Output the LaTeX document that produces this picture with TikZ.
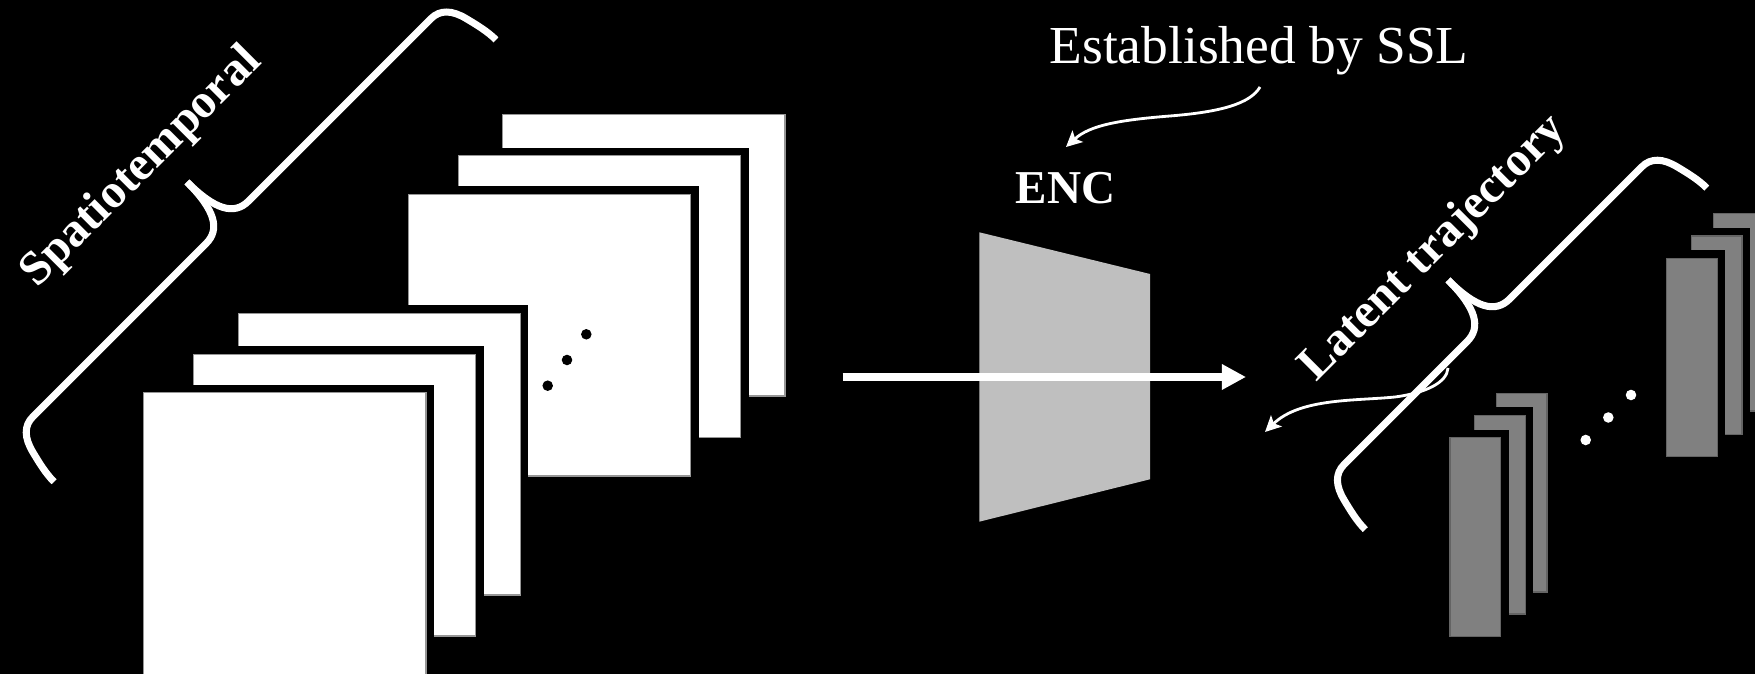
\documentclass[tikz,border=0pt]{standalone}
\usepackage{fontspec}
\setmainfont{Liberation Serif}
\usetikzlibrary{arrows.meta}
\definecolor{framegray}{RGB}{128,128,128}
\definecolor{frameedge}{RGB}{100,100,100}
\definecolor{sheetedge}{RGB}{150,150,150}
\definecolor{encgray}{RGB}{191,191,191}
% one sheet of a stack: a black margin behind it, then the sheet itself
\newcommand\stackedsheet[5]{%
  \fill[black] (#2-8,#3-8) rectangle (#4+8,#5+8);
  \filldraw[#1] (#2,#3) rectangle (#4,#5);}
\begin{document}
\begin{tikzpicture}[x=0.01cm, y=-0.01cm,
  whitesheet/.style={fill=white, draw=sheetedge, line width=0.4pt},
  latentsheet/.style={fill=framegray, draw=frameedge, line width=0.4pt},
  bracestroke/.style={draw=white, line width=2pt, line cap=butt},
  pointer/.style={draw=white, line width=0.8pt, -{Stealth[length=4.5pt, width=4.4pt, inset=1pt]}},
  flow/.style={draw=white, line width=2.28pt, -{Triangle[length=6.9pt, width=6.9pt]}},
  boldlabel/.style={text=white, font=\fontsize{13.7}{16}\selectfont\bfseries, inner sep=0pt},
  pics/curlybrace/.style 2 args={code={
    \draw[bracestroke] (0,0) .. controls (0,40) and (-10,57) .. (-30,57)
      -- (-#1+31,57) .. controls (-#1+18,57) and (-#1+10,66) .. (-#1+6,82)
      .. controls (-#1+3,94) and (-#1,106) .. (-#1,118);
    \draw[bracestroke] (0,0) .. controls (0,40) and (10,57) .. (30,57)
      -- (#2-31,57) .. controls (#2-18,57) and (#2-10,66) .. (#2-6,82)
      .. controls (#2-3,94) and (#2,106) .. (#2,118);
  }}]
\useasboundingbox (0,0) rectangle (1755,674);
\clip (0,0) rectangle (1755,674);
\fill[black] (0,0) rectangle (1755,674);

% input frames, back stack
\stackedsheet{whitesheet}{502.7}{114.3}{785}{396}
\stackedsheet{whitesheet}{458.3}{155.7}{740.7}{437.7}
\stackedsheet{whitesheet}{408.3}{194.3}{690.7}{476}
\foreach \p in {(547.7,385.7),(567,360),(586.3,334.3)}
  \fill[black] \p circle[radius=1.5pt];

% input frames, front stack
\stackedsheet{whitesheet}{238.3}{313.3}{520.3}{595}
\stackedsheet{whitesheet}{193.3}{354.3}{475.7}{636}
\stackedsheet{whitesheet}{143.3}{392.7}{426}{690}

% latent codes
\stackedsheet{latentsheet}{1713.3}{213.3}{1764}{411}
\stackedsheet{latentsheet}{1691.7}{236}{1742}{434.3}
\stackedsheet{latentsheet}{1666.7}{258.3}{1717.3}{456.3}
\stackedsheet{latentsheet}{1496.3}{393.3}{1547}{592}
\stackedsheet{latentsheet}{1474.7}{415.3}{1525.3}{614}
\stackedsheet{latentsheet}{1450}{437.7}{1500.7}{636.3}
\foreach \p in {(1585.7,440),(1608.3,417.5),(1631,395)}
  \fill[white] \p circle[radius=1.5pt];

% encoder
\fill[encgray] (979.3,232.3) -- (1150,274) -- (1150,479.3) -- (979.3,521.7) -- cycle;
\coordinate (flowin) at (842.7,377);
\coordinate (flowout) at (1246,377);
\draw[flow] (flowin) -- (flowout);

% labels
\node[text=white, font=\fontsize{15.2}{18}\selectfont, anchor=base, inner sep=0pt]
  (ssl) at (1259,64) {Established by SSL};
\node[boldlabel, font=\fontsize{13.4}{16}\selectfont\bfseries, anchor=base]
  (enc) at (1065.5,204) {ENC};
\node[boldlabel, rotate=45, anchor=base] (spatio) at (150,176) {Spatiotemporal};
\node[boldlabel, rotate=45, anchor=base] (latent) at (1442,257) {Latent trajectory};

% braces
\pic[rotate=45] at (187,182) {curlybrace={306}{319}};
\pic[rotate=45] at (1448,280) {curlybrace={235}{248}};

% pointers
\coordinate (sslfrom) at (1260,87);
\coordinate (sslto) at (1066,147);
\draw[pointer] (sslfrom) .. controls (1250,104) and (1220,112) .. (1170,116)
  .. controls (1120,120) and (1090,125) .. (sslto);
\coordinate (latfrom) at (1448,368);
\coordinate (latto) at (1265,432);
\draw[pointer] (latfrom) .. controls (1447,383) and (1425,393) .. (1395,397)
  .. controls (1355,401) and (1300,398) .. (latto);
\end{tikzpicture}
\end{document}
